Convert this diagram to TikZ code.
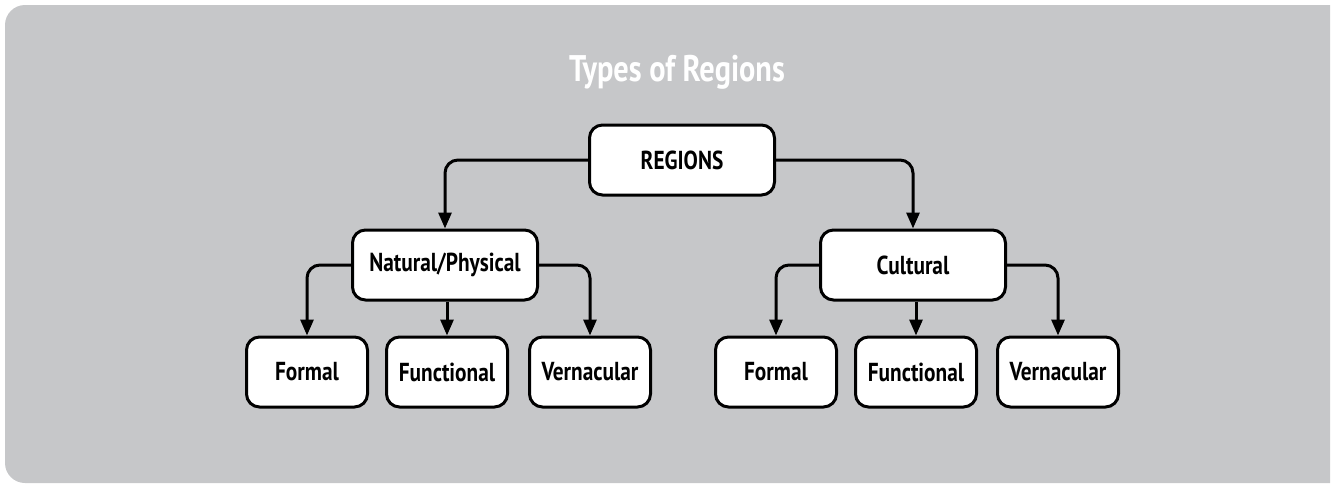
\documentclass[tikz,border=0pt]{standalone}
\usepackage{fontspec}
\setmainfont{PT Sans}[FakeStretch=0.82]
\usetikzlibrary{arrows.meta}
\definecolor{bggray}{HTML}{C6C7C9}
\tikzset{
  box/.style={draw=black, fill=white, line width=3pt, rounded corners=13pt,
    minimum height=70pt, inner sep=0pt, font=\fontsize{26}{30}\selectfont\bfseries},
  topbox/.style={box, minimum width=185pt},
  leafbox/.style={box, minimum width=121pt},
  conn/.style={line width=3pt, rounded corners=13pt,
    -{Triangle[length=16pt,width=13pt]}},
  title/.style={text=white, font=\fontsize{37}{42}\selectfont\bfseries}
}
\begin{document}
\begin{tikzpicture}[x=1pt,y=-1pt]
\useasboundingbox (0,0) rectangle (1336,483);
\fill[bggray] (1330,5) -- (25,5) arc[start angle=-90,end angle=-180,radius=20]
  -- (5,463) arc[start angle=180,end angle=90,radius=20] -- (1330,483) -- cycle;
\node[title] (title) at (677,72) {Types of Regions};
\node[topbox] (reg) at (682,160) {REGIONS};
\node[topbox] (np) at (445,265) {Natural/Physical};
\node[topbox] (cu) at (913,265) {Cultural};
\node[leafbox] (f1) at (307,372) {Formal};
\node[leafbox] (u1) at (447,372) {Functional};
\node[leafbox] (v1) at (590,372) {Vernacular};
\node[leafbox] (f2) at (776,372) {Formal};
\node[leafbox] (u2) at (916,372) {Functional};
\node[leafbox] (v2) at (1058,372) {Vernacular};
\draw[conn] (reg.west) -| (np.north);
\draw[conn] (reg.east) -| (cu.north);
\draw[conn] (np.west) -| (f1.north);
\draw[conn] (np.east) -| (v1.north);
\draw[conn] (np.south -| u1.north) -- (u1.north);
\draw[conn] (cu.west) -| (f2.north);
\draw[conn] (cu.east) -| (v2.north);
\draw[conn] (cu.south -| u2.north) -- (u2.north);
\end{tikzpicture}
\end{document}
